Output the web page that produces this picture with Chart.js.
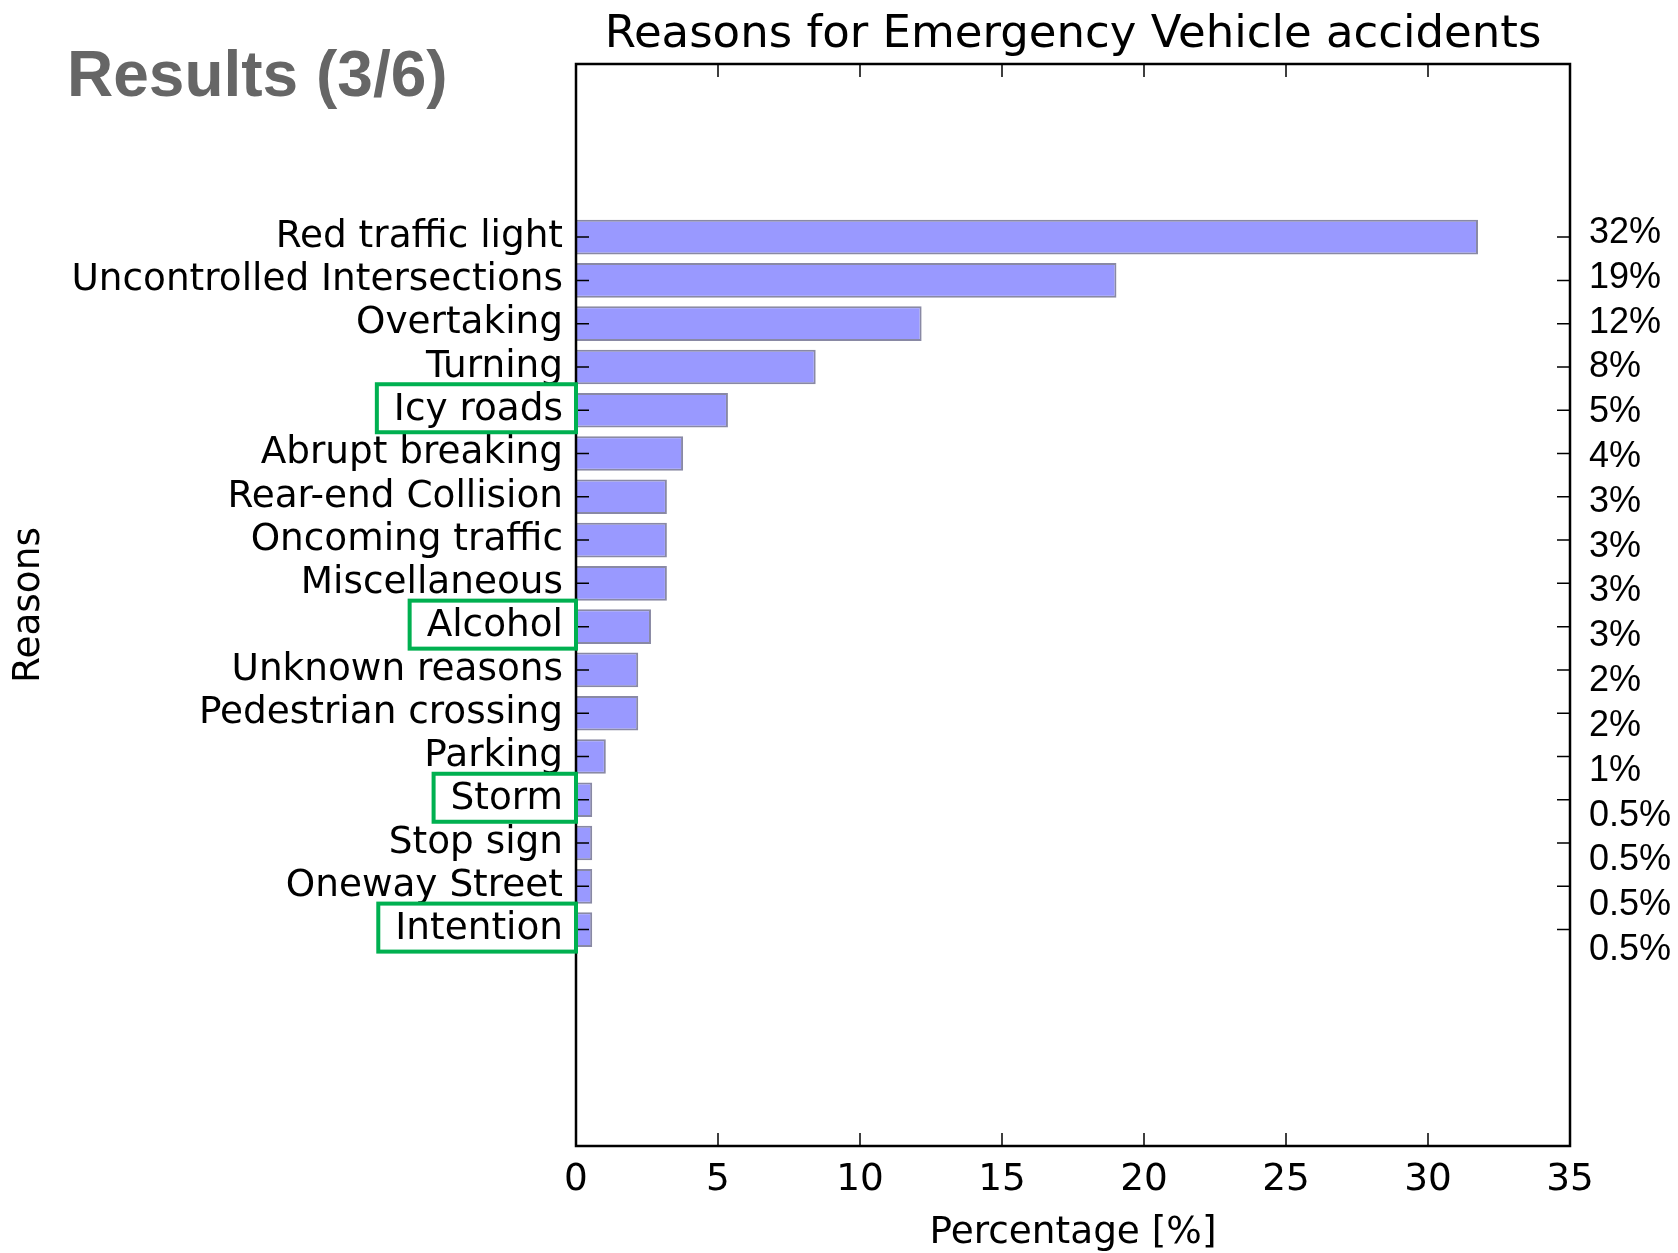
<!DOCTYPE html>
<html>
<head>
<meta charset="utf-8">
<title>Reasons for Emergency Vehicle accidents</title>
<script src="https://cdn.jsdelivr.net/npm/chart.js"></script>
<style>
  html, body { margin: 0; padding: 0; background: #fff; }
  #wrap { position: relative; width: 1678px; height: 1253px; }
  #slideTitle {
    position: absolute; left: 67px; top: 37px;
    font: bold 64px "Liberation Sans", Arial, sans-serif;
    color: #666666; white-space: nowrap;
  }
</style>
</head>
<body>
<div id="wrap">
  <canvas id="reasonsChart" width="1678" height="1253"></canvas>
  <div id="slideTitle">Results (3/6)</div>
</div>
<script>
// ========================
// DATA (top to bottom)
// ========================
const reasons = [
  'Red traffic light', 'Uncontrolled Intersections', 'Overtaking', 'Turning',
  'Icy roads', 'Abrupt breaking', 'Rear-end Collision', 'Oncoming traffic',
  'Miscellaneous', 'Alcohol', 'Unknown reasons', 'Pedestrian crossing',
  'Parking', 'Storm', 'Stop sign', 'Oneway Street', 'Intention'
];
const percentValues = [
  31.76, 19.03, 12.17, 8.44, 5.35, 3.77, 3.2, 3.2,
  3.2, 2.64, 2.19, 2.19, 1.05, 0.57, 0.57, 0.57, 0.57
];
const percentLabels = [
  '32%', '19%', '12%', '8%', '5%', '4%', '3%', '3%',
  '3%', '3%', '2%', '2%', '1%', '0.5%', '0.5%', '0.5%', '0.5%'
];
const highlighted = ['Icy roads', 'Alcohol', 'Storm', 'Intention'];

const N = reasons.length;
const LABEL_FONT = { family: "'DejaVu Sans', sans-serif", size: 37.4 };

// bar i sits at y = N-1-i so the first reason is on top
const barPoints = reasons.map((r, i) => ({ x: percentValues[i], y: N - 1 - i }));

function labelAt(list, value) {
  if (!Number.isInteger(value) || value < 0 || value > N - 1) return '';
  return list[N - 1 - value];
}

// ========================
// FRAME, INWARD TICKS, GREEN BOXES
// ========================
const framePlugin = {
  id: 'framePlugin',
  afterDraw(chart) {
    const { ctx, chartArea: a, scales: { x, y } } = chart;
    const tick = 13;
    ctx.save();
    ctx.strokeStyle = '#000';
    ctx.lineWidth = 1.5;
    ctx.beginPath();
    x.ticks.forEach(t => {
      const px = x.getPixelForValue(t.value);
      ctx.moveTo(px, a.bottom); ctx.lineTo(px, a.bottom - tick);
      ctx.moveTo(px, a.top); ctx.lineTo(px, a.top + tick);
    });
    barPoints.forEach(p => {
      const py = y.getPixelForValue(p.y);
      ctx.moveTo(a.left, py); ctx.lineTo(a.left + tick, py);
      ctx.moveTo(a.right, py); ctx.lineTo(a.right - tick, py);
    });
    ctx.stroke();
    ctx.lineWidth = 2.5;
    ctx.strokeRect(a.left, a.top, a.right - a.left, a.bottom - a.top);

    // green highlight boxes round some reason labels
    ctx.font = `${LABEL_FONT.size}px ${LABEL_FONT.family}`;
    ctx.strokeStyle = '#00b050';
    ctx.lineWidth = 4;
    highlighted.forEach(name => {
      const i = reasons.indexOf(name);
      const py = y.getPixelForValue(N - 1 - i);
      const w = ctx.measureText(name).width;
      const left = a.left - 13 - w - 17;
      ctx.strokeRect(left, py - 26, a.left - left, 48);
    });
    ctx.restore();
  }
};

// ========================
// CHART
// ========================
new Chart(document.getElementById('reasonsChart'), {
  type: 'bar',
  data: {
    datasets: [{
      data: barPoints,
      backgroundColor: '#9999ff',
      borderColor: 'rgba(40,40,90,0.55)',
      borderWidth: 2,
      barPercentage: 0.8,
      categoryPercentage: 1.0,
      yAxisID: 'y',
      xAxisID: 'x'
    }]
  },
  options: {
    indexAxis: 'y',
    responsive: false,
    animation: false,
    layout: { padding: 0 },
    plugins: {
      legend: { display: false },
      tooltip: { enabled: false },
      title: {
        display: true,
        text: 'Reasons for Emergency Vehicle accidents',
        fullSize: false,
        color: '#000',
        font: { family: LABEL_FONT.family, size: 45, weight: 'normal', lineHeight: 1.2 },
        padding: { top: 8, bottom: 2 }
      }
    },
    scales: {
      x: {
        type: 'linear',
        position: 'bottom',
        min: 0, max: 35,
        grid: { display: false, drawTicks: false },
        border: { display: false },
        ticks: { stepSize: 5, color: '#000', padding: 12, font: { ...LABEL_FONT, lineHeight: 1.2 } },
        title: {
          display: true, text: 'Percentage [%]', color: '#000',
          font: { ...LABEL_FONT, lineHeight: 1.0 }, padding: { top: 0, bottom: 1 }
        },
        afterFit: s => { s.height = 107; }
      },
      y: {
        type: 'linear',
        position: 'left',
        offset: false,
        min: -5, max: 20,
        grid: { display: false, drawTicks: false, offset: false },
        border: { display: false },
        ticks: {
          stepSize: 1, autoSkip: false, color: '#000', padding: 13,
          font: { ...LABEL_FONT, lineHeight: 1.0 },
          callback: v => labelAt(reasons, v)
        },
        title: {
          display: true, text: 'Reasons', color: '#000',
          font: { ...LABEL_FONT, lineHeight: 1.0 }, padding: { top: 11, bottom: 0 }
        },
        afterFit: s => { s.width = 576; }
      },
      y2: {
        type: 'linear',
        position: 'right',
        offset: false,
        min: -4.37, max: 19.77,
        grid: { display: false, drawTicks: false, offset: false },
        border: { display: false },
        ticks: {
          stepSize: 1, autoSkip: false, color: '#000', padding: 19,
          font: { family: "'Liberation Sans', Arial, sans-serif", size: 36, lineHeight: 1.0 },
          callback: v => labelAt(percentLabels, v)
        },
        afterFit: s => { s.width = 108; }
      }
    }
  },
  plugins: [framePlugin]
});
</script>
</body>
</html>
